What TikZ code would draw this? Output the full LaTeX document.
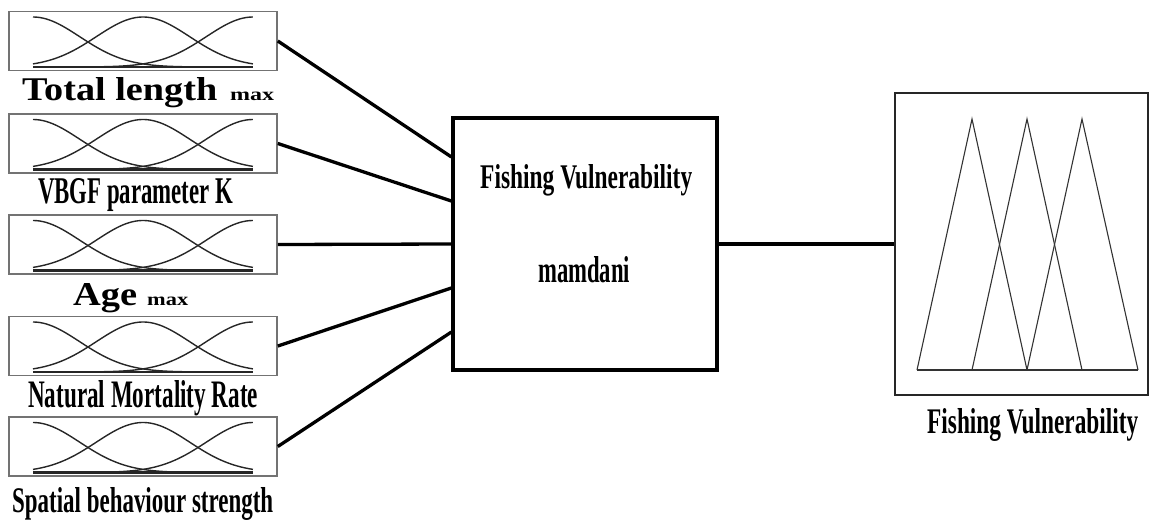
\documentclass[tikz,border=0pt]{standalone}
\usepackage{fontspec}
\setmainfont{Liberation Serif}
\usetikzlibrary{calc}
\tikzset{
  inbox/.style={draw=black!55, line width=1.6pt, minimum width=268pt, minimum height=59pt, inner sep=0pt},
  mfcurve/.style={draw=black!85, line width=1.4pt},
  mfbase/.style={draw=black!85, line width=2.6pt},
  fisbox/.style={draw=black, line width=3.2pt, minimum width=264pt, minimum height=252pt, inner sep=0pt},
  outbox/.style={draw=black!85, line width=1.3pt, minimum width=253pt, minimum height=302pt, inner sep=0pt},
  tri/.style={draw=black!80, line width=1.1pt, line join=miter},
  link/.style={draw=black, line width=3.3pt},
  lbl/.style={inner sep=0pt, anchor=base west, font=\bfseries},
}
% label squeezed to a given width and height
\newcommand{\fitlbl}[3]{\resizebox{#1pt}{#2pt}{#3}}
% an input variable box with three bell-shaped membership functions
\newcommand{\mfpanel}[2]{%
  \node[inbox] (#1) at (143,#2) {};
  \begin{scope}[shift={(143,#2)}]
    \draw[mfbase] (-110,26) -- (110,26);
    \foreach \c in {-1,0,1}{
      \draw[mfcurve] plot[domain=-1:1, samples=70, smooth]
        ({110*\x},{26-50*exp(-((\x-\c)^2)/0.3604)});
    }
  \end{scope}}
\begin{document}
\begin{tikzpicture}[x=1pt,y=-1pt]
\useasboundingbox (0,0) rectangle (1151,520);

% input variables
\mfpanel{in1}{41}
\mfpanel{in2}{143.5}
\mfpanel{in3}{244.5}
\mfpanel{in4}{346}
\mfpanel{in5}{446.5}

\node[lbl] (l1) at (22,100) {\fitlbl{195}{23}{Total length}};
\node[lbl] (l1s) at (230,100) {\fitlbl{44}{8.5}{max}};
\node[lbl] (l2) at (38,203) {\fitlbl{195}{25}{VBGF parameter K}};
\node[lbl] (l3) at (73,305) {\fitlbl{64}{22}{Age}};
\node[lbl] (l3s) at (147,305) {\fitlbl{41}{8.5}{max}};
\node[lbl] (l4) at (28,407) {\fitlbl{230}{27}{Natural Mortality Rate}};
\node[lbl] (l5) at (12,512) {\fitlbl{261}{25}{Spatial behaviour strength}};

% inference system
\node[fisbox] (fis) at (585,244) {};
\node[lbl] (fist) at (480,188) {\fitlbl{212}{24}{Fishing Vulnerability}};
\node[lbl] (fism) at (538,282) {\fitlbl{92}{26}{mamdani}};

% output variable
\node[outbox] (out) at (1021.5,244) {};
\draw[tri] (917,370) -- (972,119) -- (1027,370);
\draw[tri] (972,370) -- (1027,119) -- (1082,370);
\draw[tri] (1027,370) -- (1082,119) -- (1138,370);
\draw[tri] (917,370) -- (1138,370);
\node[lbl] (outl) at (927,433) {\fitlbl{211}{25}{Fishing Vulnerability}};

% connections
\draw[link] (in1.east) -- ($(fis.west)+(0,-87)$);
\draw[link] (in2.east) -- ($(fis.west)+(0,-43)$);
\draw[link] (in3.east) -- (fis.west);
\draw[link] (in4.east) -- ($(fis.west)+(0,44)$);
\draw[link] (in5.east) -- ($(fis.west)+(0,88)$);
\draw[link] (fis.east) -- (out.west);
\end{tikzpicture}
\end{document}
